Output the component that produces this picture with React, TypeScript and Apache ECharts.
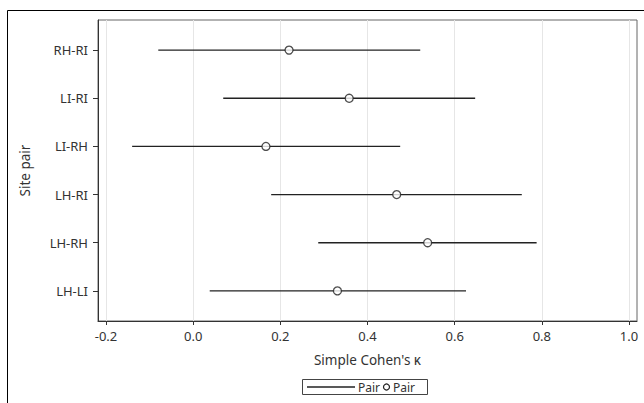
import React, { useEffect, useRef } from "react";
import * as echarts from "echarts";

const categories = ["LH-LI", "LH-RH", "LH-RI", "LI-RH", "LI-RI", "RH-RI"];
const estimates = [0.331, 0.538, 0.467, 0.167, 0.358, 0.22];
const lowerCI = [0.038, 0.287, 0.179, -0.14, 0.069, -0.08];
const upperCI = [0.626, 0.788, 0.754, 0.475, 0.647, 0.521];
const xTicks = [-0.2, 0, 0.2, 0.4, 0.6, 0.8, 1.0];
const yTicks = [0, 1, 2, 3, 4, 5];

const FONT = "Noto Sans";
const TXT = "#333";

export default function App() {
  const ref = useRef<HTMLDivElement>(null);
  useEffect(() => {
    if (!ref.current) return;
    const chart = echarts.init(ref.current, null, { renderer: "svg" });
    const barData = categories.map((_, i) => [lowerCI[i], upperCI[i], i]);
    const pointData = categories.map((_, i) => [estimates[i], i]);
    chart.setOption({
      animation: false,
      textStyle: { fontFamily: FONT },
      grid: {
        left: 98,
        top: 20,
        right: 7,
        bottom: 82,
        show: true,
        borderColor: "#666",
        borderWidth: 1,
        containLabel: false,
      },
      xAxis: {
        type: "value",
        min: -0.2183,
        max: 1.0183,
        name: "Simple Cohen's κ",
        nameLocation: "middle",
        nameGap: 32,
        nameTextStyle: { color: TXT, fontSize: 13.5, fontFamily: FONT },
        axisLine: { show: true, onZero: false, lineStyle: { color: "#333", width: 1 } },
        axisTick: { show: true, length: 4, lineStyle: { color: "#333" }, customValues: xTicks },
        axisLabel: {
          color: TXT,
          fontSize: 13,
          fontFamily: FONT,
          margin: 8,
          customValues: xTicks,
          formatter: (v: number) => v.toFixed(1),
        },
        splitLine: { show: true, lineStyle: { color: "#e6e6e6", width: 1 } },
      },
      yAxis: {
        type: "value",
        min: -0.625,
        max: 5.625,
        name: "Site pair",
        nameLocation: "middle",
        nameGap: 66,
        nameRotate: 90,
        nameTextStyle: { color: TXT, fontSize: 13.5, fontFamily: FONT },
        axisLine: { show: true, onZero: false, lineStyle: { color: "#333", width: 1 } },
        axisTick: { show: true, length: 5, lineStyle: { color: "#333" }, customValues: yTicks },
        axisLabel: {
          color: TXT,
          fontSize: 13,
          fontFamily: FONT,
          margin: 10,
          customValues: yTicks,
          formatter: (v: number) => categories[Math.round(v)] ?? "",
        },
        splitLine: { show: false },
      },
      series: [
        {
          name: "Pair",
          type: "custom",
          data: barData,
          encode: { x: [0, 1], y: 2 },
          renderItem: (params: any, api: any) => {
            const p1 = api.coord([api.value(0), api.value(2)]);
            const p2 = api.coord([api.value(1), api.value(2)]);
            return {
              type: "line",
              shape: { x1: p1[0], y1: p1[1], x2: p2[0], y2: p2[1] },
              style: { stroke: "#222", lineWidth: 1.3 },
            };
          },
          z: 2,
        },
        {
          name: "Pair",
          type: "scatter",
          data: pointData,
          symbol: "circle",
          symbolSize: 8,
          itemStyle: { color: "#fff", borderColor: "#222", borderWidth: 1.3 },
          z: 3,
        },
      ],
      graphic: [
        {
          type: "rect",
          shape: { x: 7.5, y: 10.5, width: 700, height: 500 },
          style: { fill: "none", stroke: "#000", lineWidth: 1 },
          silent: true,
        },
        {
          type: "rect",
          shape: { x: 302.5, y: 379.5, width: 125, height: 15 },
          style: { fill: "#fff", stroke: "#444", lineWidth: 1 },
          silent: true,
        },
        {
          type: "line",
          shape: { x1: 307, y1: 387, x2: 355, y2: 387 },
          style: { stroke: "#222", lineWidth: 1.3 },
          silent: true,
        },
        {
          type: "text",
          x: 358,
          y: 387.5,
          style: {
            text: "Pair",
            fill: TXT,
            fontSize: 12,
            fontFamily: FONT,
            verticalAlign: "middle",
            align: "left",
          },
          silent: true,
        },
        {
          type: "circle",
          shape: { cx: 386.5, cy: 387, r: 3 },
          style: { fill: "#fff", stroke: "#222", lineWidth: 1.2 },
          silent: true,
        },
        {
          type: "text",
          x: 393,
          y: 387.5,
          style: {
            text: "Pair",
            fill: TXT,
            fontSize: 12,
            fontFamily: FONT,
            verticalAlign: "middle",
            align: "left",
          },
          silent: true,
        },
      ],
    });
    return () => chart.dispose();
  }, []);
  return (
    <div
      ref={ref}
      style={{ position: "fixed", left: 0, top: 0, width: 644, height: 403, background: "#fff" }}
    />
  );
}
